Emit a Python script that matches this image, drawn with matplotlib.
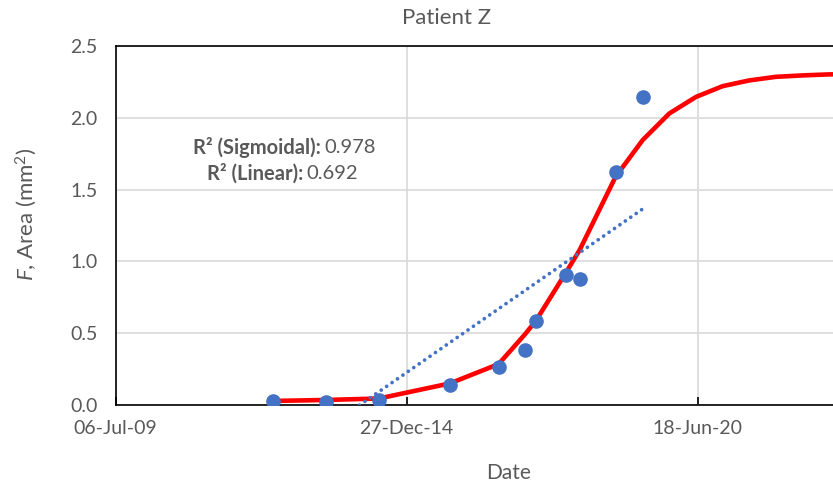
import numpy as np
import pandas as pd
import matplotlib
matplotlib.use('Agg')
import matplotlib.pyplot as plt
import matplotlib.dates as mdates

plt.rcParams['font.family'] = ['Lato', 'DejaVu Sans']
plt.rcParams['mathtext.fontset'] = 'custom'
plt.rcParams['mathtext.rm'] = 'Lato'
plt.rcParams['mathtext.it'] = 'Lato:italic'

# 观测数据 (面积 F, mm2)
obs_dates = ['2012-06-19', '2013-06-18', '2014-06-18', '2015-10-19', '2016-09-19',
             '2017-03-17', '2017-06-01', '2017-12-24', '2018-03-30', '2018-12-02',
             '2019-06-06']
obs_area = [0.028, 0.021, 0.035, 0.139, 0.265, 0.381, 0.587, 0.907, 0.875, 1.62, 2.147]

# sigmoid 拟合曲线 (读图得到的顶点)
fit_dates = ['2012-06-19', '2013-06-18', '2014-06-18', '2015-10-19', '2016-09-19',
             '2017-03-17', '2017-06-01', '2017-12-24', '2018-03-30', '2018-12-02',
             '2019-06-06', '2019-12-06', '2020-06-06', '2020-12-06', '2021-06-06',
             '2021-12-06', '2022-06-06', '2022-12-06', '2023-06-06']
fit_area = [0.028, 0.035, 0.045, 0.15, 0.285, 0.49, 0.585, 0.92, 1.08, 1.59,
            1.845, 2.03, 2.145, 2.22, 2.26, 2.285, 2.295, 2.302, 2.305]

# 线性趋势线 两端
lin_dates = ['2012-06-19', '2019-06-06']
lin_area = [-0.42, 1.365]

x_ticks = ['2009-07-06', '2014-12-27', '2020-06-18']
x_range = ['2009-07-06', '2023-01-04']   # 图被截在右边
y_ticks = [0.0, 0.5, 1.0, 1.5, 2.0, 2.5]

txt = '#595959'
blue = '#4472C4'

fig = plt.figure(figsize=(8.33, 4.86), dpi=100)
ax = fig.add_axes([0.1389, 0.1667, 0.8611, 0.7387])

ax.plot(pd.to_datetime(fit_dates), fit_area, color='#FF0000', lw=3.3, zorder=3,
        solid_joinstyle='miter')
ax.plot(pd.to_datetime(obs_dates), obs_area, 'o', color=blue, ms=9.5, zorder=4)
ax.plot(pd.to_datetime(lin_dates), lin_area, color=blue, lw=2.7,
        linestyle=(0, (0.01, 1.75)), dash_capstyle='round', zorder=5)

xr = pd.to_datetime(x_range)
ax.set_xlim(xr[0], xr[1])
ax.set_ylim(0, 2.5)
ax.set_xticks(pd.to_datetime(x_ticks))
ax.xaxis.set_major_formatter(mdates.DateFormatter('%d-%b-%y'))
ax.set_yticks(y_ticks)
ax.set_yticklabels(['%.1f' % v for v in y_ticks])

ax.grid(True, color='#D9D9D9', lw=1.2)
ax.set_axisbelow(True)
for s in ['top', 'left', 'bottom']:
    ax.spines[s].set_color('black')
    ax.spines[s].set_linewidth(1.2)
ax.spines['right'].set_visible(False)
ax.tick_params(axis='x', direction='in', length=6, width=1.2, colors='black',
               labelcolor=txt, labelsize=14, pad=11)
ax.tick_params(axis='y', length=0, labelcolor=txt, labelsize=14, pad=13)

fig.text(0.5366, 0.963, 'Patient Z', color=txt, fontsize=16, ha='center', va='center')
fig.text(0.61, 0.027, 'Date', color=txt, fontsize=15, ha='center', va='center')
fig.text(0.032, 0.5597, '$F$, Area (mm$^2$)', color=txt, fontsize=16, ha='center',
         va='center', rotation=90)

fig.text(321 / 833, 0.6975, 'R² (Sigmoidal):', color=txt, fontsize=14.5,
         fontweight='bold', ha='right', va='center')
fig.text(324 / 833, 0.6975, '0.978', color=txt, fontsize=14.5, ha='left', va='center')
fig.text(303 / 833, 0.644, 'R² (Linear):', color=txt, fontsize=14.5,
         fontweight='bold', ha='right', va='center')
fig.text(306 / 833, 0.644, '0.692', color=txt, fontsize=14.5, ha='left', va='center')

fig.savefig('out.png', dpi=100)
